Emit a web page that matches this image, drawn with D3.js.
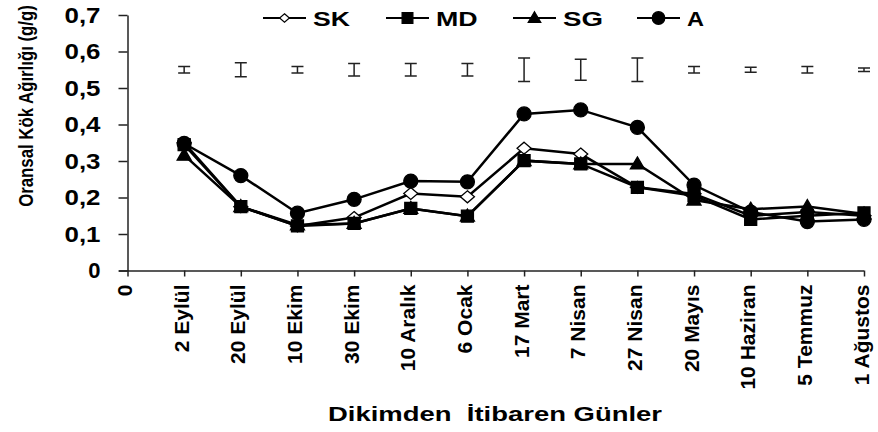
<!DOCTYPE html>
<html><head><meta charset="utf-8">
<script src="https://cdn.jsdelivr.net/npm/d3@7"></script>
<style>html,body{margin:0;padding:0;background:#fff;}svg{display:block;font-family:"Liberation Sans",Arial,sans-serif;}</style>
</head><body>
<svg id="chart" width="878" height="432"></svg>
<script>
const categories = ["0","2 Eylül","20 Eylül","10 Ekim","30 Ekim","10 Aralık","6 Ocak","17 Mart","7 Nisan","27 Nisan","20 Mayıs","10 Haziran","5 Temmuz","1 Ağustos"];
const yTicks = [0,0.1,0.2,0.3,0.4,0.5,0.6,0.7];
const seriesNames = ["SK","MD","SG","A"];
const skValues = [0.350,0.175,0.122,0.145,0.211,0.202,0.335,0.319,0.228,0.210,0.150,0.160,0.150];
const mdValues = [0.345,0.175,0.122,0.129,0.170,0.149,0.301,0.292,0.228,0.205,0.140,0.150,0.158];
const sgValues = [0.316,0.175,0.125,0.129,0.170,0.149,0.301,0.292,0.292,0.193,0.168,0.175,0.155];
const aValues  = [0.348,0.260,0.157,0.195,0.245,0.243,0.429,0.440,0.392,0.234,0.160,0.134,0.140];
const errCenter = [0.55,0.55,0.55,0.55,0.55,0.55,0.55,0.55,0.55,0.55,0.55,0.55,0.55];
const errHalf = [0.009,0.019,0.009,0.017,0.017,0.017,0.032,0.029,0.032,0.009,0.007,0.009,0.005];

const svg = d3.select("#chart");
const x = d3.scaleLinear().domain([0,13]).range([127.5,864]);
const y = d3.scaleLinear().domain([0,0.7]).range([270.5,15]);
const fmt = v => v === 0 ? "0" : d3.format(".1f")(v).replace(".", ",");

// Y axis
const yAxis = svg.append("g").attr("transform","translate(127.5,0)")
  .call(d3.axisLeft(y).tickValues(yTicks).tickSize(9).tickSizeOuter(0).tickFormat(fmt));
yAxis.select(".domain").attr("stroke","#222").attr("stroke-width",1.5);
yAxis.selectAll(".tick line").attr("stroke","#222").attr("stroke-width",1.5);
yAxis.selectAll(".tick text").attr("x",-27).attr("dy","0.33em")
  .attr("fill","#000").style("font-size","22px").style("font-weight","bold")
  .style("font-family","'Liberation Sans',Arial,sans-serif")
  .each(function(d){ if (d !== 0) d3.select(this).attr("textLength",36).attr("lengthAdjust","spacingAndGlyphs"); });

// X axis
const xAxis = svg.append("g").attr("transform","translate(0,270.5)")
  .call(d3.axisBottom(x).tickValues(d3.range(categories.length)).tickSize(6).tickSizeOuter(0).tickFormat(i => categories[i]));
xAxis.select(".domain").attr("stroke","#222").attr("stroke-width",1.5).attr("d","M119,0.5H864");
xAxis.selectAll(".tick line").attr("stroke","#222").attr("stroke-width",1.5);
xAxis.selectAll(".tick text").attr("transform","rotate(-90)").attr("x",-14).attr("y",4).attr("dy",0)
  .style("text-anchor","end").attr("fill","#000").style("font-size","21px").style("font-weight","bold")
  .style("font-family","'Liberation Sans',Arial,sans-serif");

// Axis titles
svg.append("text").attr("x",495).attr("y",421).attr("text-anchor","middle")
  .style("font-size","21px").style("font-weight","bold").style("white-space","pre")
  .attr("textLength",334).attr("lengthAdjust","spacingAndGlyphs")
  .text("Dikimden  İtibaren Günler");
svg.append("text").attr("transform","rotate(-90) scale(1,1.22)").attr("x",-106).attr("y",27)
  .attr("text-anchor","middle")
  .style("font-size","16.8px").style("font-weight","bold")
  .text("Oransal Kök Ağırlığı (g/g)");

// Error bars
const eb = svg.append("g").attr("stroke","#222").attr("stroke-width",1.5).attr("fill","none");
errCenter.forEach((c,i) => {
  const xi = x(i+1), y1 = y(c+errHalf[i]), y2 = y(c-errHalf[i]);
  eb.append("path").attr("d",`M${xi},${y1}V${y2}M${xi-6},${y1}H${xi+6}M${xi-6},${y2}H${xi+6}`);
});

// markers
function markerPath(type, s) {
  if (type === "diamond") return `M0,${-6*s}L${7*s},0L0,${6*s}L${-7*s},0Z`;
  if (type === "square") return `M${-6*s},${-6*s}H${6*s}V${6*s}H${-6*s}Z`;
  if (type === "triangle") return `M0,${-7*s}L${7*s},${5*s}H${-7*s}Z`;
  return d3.arc()({innerRadius:0,outerRadius:7*s,startAngle:0,endAngle:2*Math.PI});
}
const series = [
  {name:"SK", values:skValues, type:"diamond", fill:"#fff"},
  {name:"MD", values:mdValues, type:"square", fill:"#000"},
  {name:"SG", values:sgValues, type:"triangle", fill:"#000"},
  {name:"A",  values:aValues,  type:"circle", fill:"#000"}
];
const line = d3.line().x((d,i)=>x(i+1)).y(d=>y(d));
series.forEach(s => {
  const g = svg.append("g");
  g.append("path").attr("d",line(s.values)).attr("fill","none").attr("stroke","#000").attr("stroke-width",2.5);
  g.selectAll("path.m").data(s.values).enter().append("path").attr("class","m")
    .attr("transform",(d,i)=>`translate(${x(i+1)},${y(d)})`)
    .attr("d",markerPath(s.type,1)).attr("fill",s.fill).attr("stroke","#000").attr("stroke-width",1.3);
});

// Legend
const legendX = [263,386,513,637];
const legendTextLen = [37,41.6,40,17];
const leg = svg.append("g");
series.forEach((s,i) => {
  const lx = legendX[i], ly = 18;
  leg.append("line").attr("x1",lx).attr("x2",lx+43).attr("y1",ly).attr("y2",ly).attr("stroke","#000").attr("stroke-width",2);
  leg.append("path").attr("transform",`translate(${lx+21.5},${ly})`).attr("d",markerPath(s.type, s.type==="diamond"?0.7:0.9))
    .attr("fill",s.fill).attr("stroke","#000").attr("stroke-width",1.2);
  leg.append("text").attr("x",lx+50).attr("y",ly+7.5).style("font-size","20px").style("font-weight","bold")
    .attr("textLength",legendTextLen[i]).attr("lengthAdjust","spacingAndGlyphs").text(s.name);
});
</script>
</body></html>
